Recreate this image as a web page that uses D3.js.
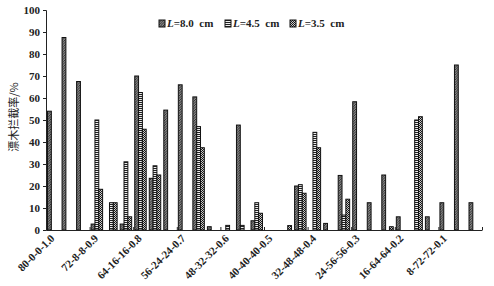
<!DOCTYPE html>
<html>
<head>
<meta charset="utf-8">
<script src="https://cdn.jsdelivr.net/npm/d3@7"></script>
<style>
  body { margin: 0; background: #fff; }
  text { font-family: "Liberation Serif", "DejaVu Serif", serif; }
</style>
</head>
<body>
<div id="chart-area"></div>
<script>
// group labels (one label for every 3 sub-categories)
const groups = ["80-0-0-1.0", "72-8-8-0.9", "64-16-16-0.8", "56-24-24-0.7", "48-32-32-0.6",
                "40-40-40-0.5", "32-48-48-0.4", "24-56-56-0.3", "16-64-64-0.2", "8-72-72-0.1"]
const series = ["L=8.0 cm", "L=4.5 cm", "L=3.5 cm"]

// values, 30 sub-categories
const valsL80 = [54, 87.5, 67.5, 2.7, 0, 2.7, 70, 23.5, 54.5, 66, 60.5, 1.5, 0, 47.7, 4.2,
                 0, 0, 20, 0, 3, 24.8, 58.3, 12.4, 25, 6, 0, 6, 12.4, 75, 12.4]
const valsL45 = [0, 0, 0, 50, 12.4, 31, 62.5, 29.2, 0, 0, 47, 0, 2.1, 2.1, 12.4,
                 0, 0, 20.6, 44.4, 0, 6.8, 0, 0, 0, 0, 50, 0, 0, 0, 0]
const valsL35 = [0, 0, 0, 18.5, 12.4, 6, 45.8, 25, 0, 0, 37.4, 0, 0, 0, 7.6,
                 0, 2, 16.7, 37.4, 0, 14, 0, 0, 1.5, 0, 51.5, 0, 0, 0, 0]
const yTicks = [0, 10, 20, 30, 40, 50, 60, 70, 80, 90, 100]

const allVals = [valsL80, valsL45, valsL35]
const cats = d3.range(valsL80.length)

const W = 494, H = 286
const mLeft = 46, mRight = 482, mTop = 10, mBottom = 230

const svg = d3.select("#chart-area").append("svg")
    .attr("width", W)
    .attr("height", H)

// patterns for the three series
const defs = svg.append("defs")
const p0 = defs.append("pattern").attr("id", "p0").attr("patternUnits", "userSpaceOnUse")
    .attr("width", 2.5).attr("height", 2.5)
p0.append("rect").attr("width", 2.5).attr("height", 2.5).attr("fill", "#ddd")
p0.append("path").attr("d", "M0,2.5 L2.5,0 M-1,1 L1,-1 M1.5,3.5 L3.5,1.5").attr("stroke", "#222").attr("stroke-width", 1.1)

const p1 = defs.append("pattern").attr("id", "p1").attr("patternUnits", "userSpaceOnUse")
    .attr("width", 2).attr("height", 2)
p1.append("rect").attr("width", 2).attr("height", 2).attr("fill", "#eee")
p1.append("path").attr("d", "M0,0.5 L2,0.5").attr("stroke", "#222").attr("stroke-width", 1)

const p2 = defs.append("pattern").attr("id", "p2").attr("patternUnits", "userSpaceOnUse")
    .attr("width", 2).attr("height", 2)
p2.append("rect").attr("width", 2).attr("height", 2).attr("fill", "#ccc")
p2.append("rect").attr("width", 1).attr("height", 1).attr("fill", "#111")
p2.append("rect").attr("x", 1).attr("y", 1).attr("width", 1).attr("height", 1).attr("fill", "#222")

// scales
const x = d3.scaleBand().domain(cats).range([mLeft, mRight]).padding(0)
const xSub = d3.scaleBand().domain(d3.range(3)).range([0, x.bandwidth()]).paddingInner(0).paddingOuter(0.4)
const xIdx = d3.scaleLinear().domain([0, cats.length]).range([mLeft, mRight])
const y = d3.scaleLinear().domain([0, 100]).range([mBottom, mTop])

// bars
allVals.forEach((vals, s) => {
    svg.append("g").selectAll("rect")
        .data(cats.filter(i => vals[i] > 0))
        .enter().append("rect")
        .attr("x", i => x(i) + xSub(s))
        .attr("y", i => y(vals[i]))
        .attr("width", xSub.bandwidth())
        .attr("height", i => y(0) - y(vals[i]))
        .attr("fill", "url(#p" + s + ")")
        .attr("stroke", "#111")
        .attr("stroke-width", 1)
})

// y axis
const yAxis = svg.append("g")
    .attr("transform", `translate(${mLeft},0)`)
    .call(d3.axisLeft(y).tickValues(yTicks).tickSize(3).tickPadding(3))
yAxis.select(".domain").attr("stroke", "#222")
yAxis.selectAll(".tick line").attr("stroke", "#222")
yAxis.selectAll("text").attr("font-size", 11).attr("font-weight", "bold").attr("fill", "#222")

// x axis: ticks every 3 sub-categories, pointing inward
const xAxis = svg.append("g")
    .attr("transform", `translate(0,${mBottom})`)
    .call(d3.axisBottom(xIdx).tickValues(d3.range(0, cats.length + 1, 3)).tickSize(-3).tickSizeOuter(0).tickFormat(""))
xAxis.select(".domain").attr("stroke", "#222")
xAxis.selectAll(".tick line").attr("stroke", "#222")

svg.append("g").selectAll("text")
    .data(groups)
    .enter().append("text")
    .attr("transform", (d, i) => {
        const cx = x(i * 3) + x.bandwidth() / 2 + 2
        return `translate(${cx},${mBottom + 9}) rotate(-45)`
    })
    .attr("text-anchor", "end")
    .attr("font-size", 11)
    .attr("font-weight", "bold")
    .attr("fill", "#222")
    .text(d => d)

// y axis title
svg.append("text")
    .attr("transform", `translate(18,117) rotate(-90)`)
    .attr("text-anchor", "middle")
    .style("font-family", "'Noto Sans CJK SC', sans-serif")
    .attr("font-size", 11)
    .attr("fill", "#222")
    .text("漂木拦截率/%")

// legend
const legendX = [159, 225, 290]
const leg = svg.append("g").selectAll("g")
    .data(series)
    .enter().append("g")
    .attr("transform", (d, i) => `translate(${legendX[i]},20)`)
leg.append("rect")
    .attr("width", 6).attr("height", 7)
    .attr("fill", (d, i) => "url(#p" + i + ")")
    .attr("stroke", "#111")
    .attr("stroke-width", 1)
const legText = leg.append("text")
    .attr("x", 8).attr("y", 7)
    .attr("font-size", 11)
    .attr("font-weight", "bold")
    .attr("fill", "#222")
legText.append("tspan").attr("font-style", "italic").text("L")
legText.append("tspan").text(d => d.slice(1).replace(" ", "\u00a0\u00a0"))
</script>
</body>
</html>
